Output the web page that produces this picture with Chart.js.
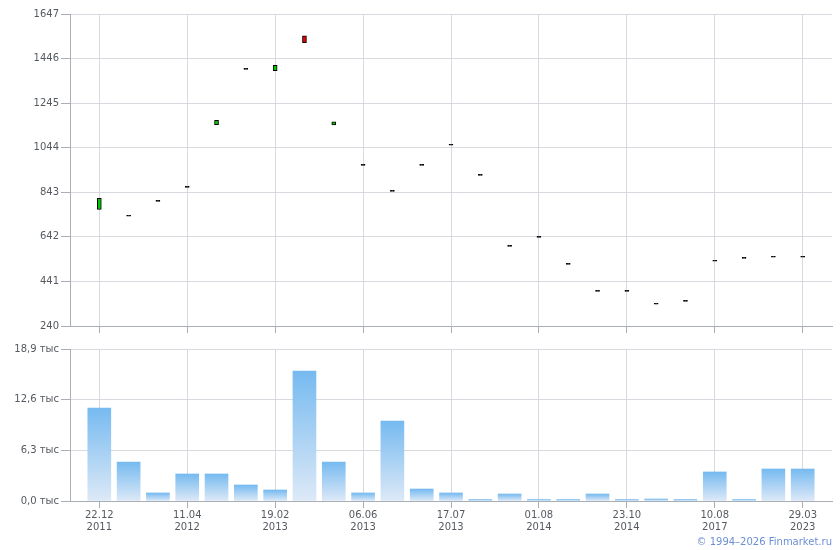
<!DOCTYPE html>
<html>
<head>
<meta charset="utf-8">
<script src="https://cdn.jsdelivr.net/npm/chart.js@4"></script>
<style>
  body { margin: 0; background: #fff; width: 840px; height: 550px; position: relative; overflow: hidden; }
  #priceWrap { position: absolute; left: 0; top: 0; width: 840px; height: 340px; }
  #volWrap { position: absolute; left: 0; top: 340px; width: 840px; height: 200px; }
  #copy { position: absolute; right: 8px; top: 536px; font: 10px "DejaVu Sans", sans-serif; color: #6b8fd6; }
</style>
</head>
<body>
<div id="priceWrap"><canvas id="priceChart"></canvas></div>
<div id="volWrap"><canvas id="volChart"></canvas></div>
<div id="copy">© 1994–2026 Finmarket.ru</div>
<script>
// candle values (open / close), one per period
const opens = [766, 735, 802, 865, 1148, 1397, 1392, 1548, 1147, 964, 847, 964, 1055, 919, 599, 640, 518, 396, 396, 338, 351, 532, 545, 550, 550];
const closes = [816, 735, 802, 865, 1167, 1397, 1415, 1518, 1161, 964, 847, 964, 1055, 919, 599, 640, 518, 396, 396, 338, 351, 532, 545, 550, 550];

// volume per period
const volumes = [11560, 4850, 1000, 3360, 3360, 1990, 1370, 16160, 4850, 1000, 9950, 1490, 1000, 180, 870, 180, 180, 870, 180, 250, 180, 3610, 180, 3980, 3980];

// axis ticks
const priceTicks = [240, 441, 642, 843, 1044, 1245, 1446, 1647];
const volTicks = [0, 6300, 12600, 18900];
const dateTickIndex = [0, 3, 6, 9, 12, 15, 18, 21, 24];
const dateTickDays = ["22.12", "11.04", "19.02", "06.06", "17.07", "01.08", "23.10", "10.08", "29.03"];
const dateTickYears = ["2011", "2012", "2013", "2013", "2013", "2014", "2014", "2017", "2023"];

const gridColor = "#d6dadf";
const axisColor = "#a9adb4";
const tickColor = "#555a60";
const font = { family: "DejaVu Sans", size: 10 };

Chart.defaults.animation = false;

function xScale(showLabels) {
  return {
    type: "linear",
    min: -1,
    max: 25,
    offset: false,
    afterBuildTicks: (scale) => {
      scale.ticks = dateTickIndex.map((v) => ({ value: v }));
    },
    afterFit: (scale) => {
      scale.height = showLabels ? 39 : 14;
    },
    grid: {
      offset: false,
      color: gridColor,
      tickColor: axisColor,
      tickLength: 7,
    },
    border: { color: axisColor },
    ticks: {
      display: showLabels,
      color: tickColor,
      font: font,
      padding: 1,
      maxRotation: 0,
      autoSkip: false,
      callback: function (value) {
        const i = dateTickIndex.indexOf(value);
        return i < 0 ? "" : [dateTickDays[i], dateTickYears[i]];
      },
    },
  };
}

function yScale(min, max, ticks, fmt) {
  return {
    min: min,
    max: max,
    afterBuildTicks: (scale) => {
      scale.ticks = ticks.map((v) => ({ value: v }));
    },
    afterFit: (scale) => {
      scale.width = 70;
    },
    grid: {
      color: gridColor,
      tickColor: axisColor,
      tickLength: 9,
    },
    border: { color: axisColor },
    ticks: {
      color: tickColor,
      font: font,
      padding: 2,
      callback: fmt,
    },
  };
}

// Price chart (floating bars as candle bodies)
const priceCtx = document.getElementById("priceChart").getContext("2d");
new Chart(priceCtx, {
  type: "bar",
  data: {
    datasets: [
      {
        data: opens.map((o, i) => ({ x: i, y: [o, closes[i]] })),
        backgroundColor: (ctx) => {
          const o = opens[ctx.dataIndex];
          const c = closes[ctx.dataIndex];
          if (o === c) return "#000";
          return c > o ? "#00c800" : "#e00000";
        },
        borderColor: "#000",
        borderWidth: 1,
        borderSkipped: false,
        barThickness: 4,
        minBarLength: 1,
      },
    ],
  },
  options: {
    responsive: true,
    maintainAspectRatio: false,
    layout: { padding: { top: 14, right: 8, left: 0, bottom: 0 } },
    plugins: { legend: { display: false }, tooltip: { enabled: false } },
    scales: {
      x: xScale(false),
      y: yScale(240, 1647, priceTicks, (v) => String(v)),
    },
  },
});

// Volume chart
const volCtx = document.getElementById("volChart").getContext("2d");
new Chart(volCtx, {
  type: "bar",
  data: {
    datasets: [
      {
        data: volumes.map((v, i) => ({ x: i, y: v })),
        backgroundColor: (ctx) => {
          const chart = ctx.chart;
          const y = chart.scales && chart.scales.y;
          if (!chart.chartArea || !y || ctx.dataIndex === undefined) return "#9fcbf2";
          const top = y.getPixelForValue(volumes[ctx.dataIndex]);
          const bottom = y.getPixelForValue(0);
          if (!isFinite(top) || !isFinite(bottom) || bottom - top < 1) return "#8fc3f0";
          const g = chart.ctx.createLinearGradient(0, top, 0, bottom);
          g.addColorStop(0, "#76baf0");
          g.addColorStop(1, "#dde9f7");
          return g;
        },
        borderWidth: 0,
        barThickness: 23,
      },
    ],
  },
  options: {
    responsive: true,
    maintainAspectRatio: false,
    layout: { padding: { top: 9, right: 8, left: 0, bottom: 0 } },
    plugins: { legend: { display: false }, tooltip: { enabled: false } },
    scales: {
      x: xScale(true),
      y: yScale(0, 18900, volTicks, (v) => (v / 1000).toFixed(1).replace(".", ",") + " тыс"),
    },
  },
});
</script>
</body>
</html>
